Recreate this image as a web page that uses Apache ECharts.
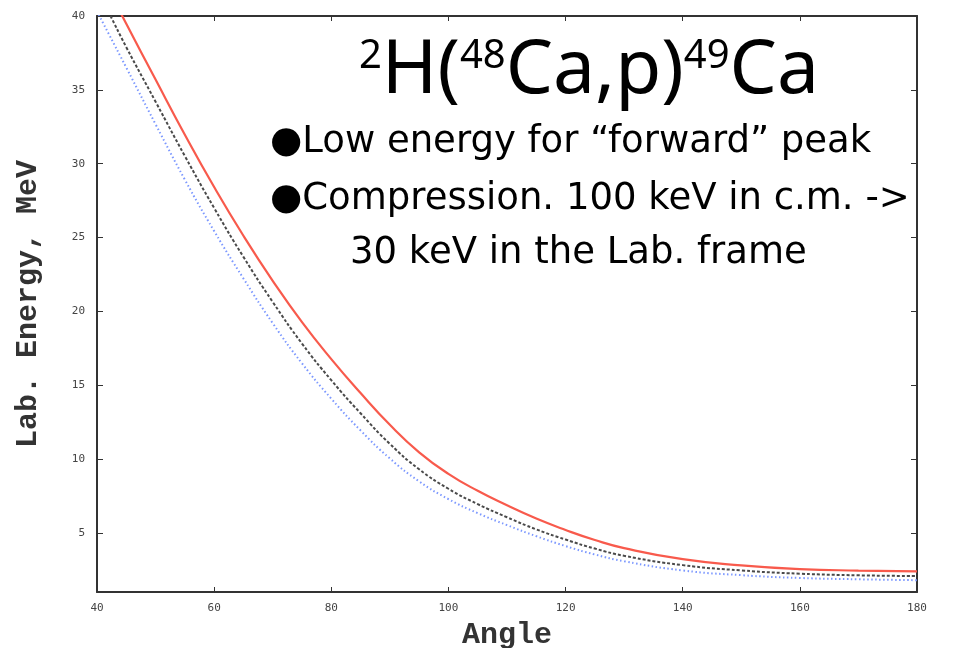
<!DOCTYPE html>
<html>
<head>
<meta charset="utf-8">
<script src="https://cdn.jsdelivr.net/npm/echarts@6/dist/echarts.min.js"></script>
<style>html,body{margin:0;padding:0;background:#fff}#c{width:953px;height:648px}</style>
</head>
<body>
<div id="c"></div>
<script>
var angles = [40,42,45,50,55,60,65,70,75,80,85,90,95,100,105,110,115,120,125,130,140,150,160,170,180];
var redE   = [43.35,41.8,39.47,35.7,31.96,28.42,25.12,22.07,19.27,16.77,14.47,12.32,10.46,9.0,7.85,6.87,5.97,5.2,4.52,3.97,3.22,2.8,2.55,2.45,2.4];
var blackE = [41.83,40.25,37.89,34.2,30.52,27.0,23.69,20.64,17.82,15.34,13.1,11.03,9.31,7.99,6.95,6.06,5.24,4.55,3.94,3.45,2.82,2.46,2.24,2.13,2.08];
var blueE  = [40.32,38.79,36.51,32.67,28.92,25.44,22.23,19.2,16.48,14.09,11.94,10.04,8.49,7.29,6.34,5.53,4.78,4.11,3.54,3.08,2.46,2.14,1.95,1.86,1.8];
var xTicks = [40,60,80,100,120,140,160,180];
var yTicks = [5,10,15,20,25,30,35,40];
var title = ['2','H(','48','Ca,p)','49','Ca'];
var bullets = ['\u25CFLow energy for \u201Cforward\u201D peak', '\u25CFCompression. 100 keV in c.m. ->', '30 keV in the Lab. frame'];

function pairs(ys){ return angles.map(function(a,i){return [a, ys[i]];}); }

var chart = echarts.init(document.getElementById('c'), null, {renderer:'canvas'});
var tickLbl = {fontFamily:'DejaVu Sans Mono', fontSize:11, color:'#444'};
var axisLine = {show:true, lineStyle:{color:'#333', width:2}};
var txtFont = '37px "DejaVu Sans"';
var option = {
  animation:false,
  backgroundColor:'#fff',
  grid:{left:97, right:36, top:16, bottom:56, show:false, outerBoundsMode:'none', containLabel:false},
  title:{
    text:'{s|'+title[0]+'}{b|'+title[1]+'}{s|'+title[2]+'}{b|'+title[3]+'}{s|'+title[4]+'}{b|'+title[5]+'}',
    left:584, top:14, textAlign:'center',
    textStyle:{fontWeight:'normal', rich:{
      b:{fontFamily:'Noto Sans', fontWeight:'normal', fontSize:75, color:'#000', verticalAlign:'bottom', lineHeight:90},
      s:{fontFamily:'Noto Sans', fontWeight:'normal', fontSize:40, color:'#000', verticalAlign:'top', lineHeight:40, padding:[18,0,0,0]}
    }}
  },
  graphic:[
    {type:'text', left:270, top:124, style:{text:bullets[0], font:txtFont, fill:'#000'}},
    {type:'text', left:270, top:181, style:{text:bullets[1], font:txtFont, fill:'#000'}},
    {type:'text', left:350, top:235, style:{text:bullets[2], font:txtFont, fill:'#000'}}
  ],
  xAxis:[
    {type:'value', min:40, max:180, interval:20, position:'bottom',
     name:'Angle', nameLocation:'middle', nameGap:28,
     nameTextStyle:{fontFamily:'Liberation Mono', fontWeight:'bold', fontSize:30, color:'#333'},
     axisLine:axisLine, axisTick:{show:true, inside:true, length:5, lineStyle:{color:'#333'}},
     axisLabel:Object.assign({margin:11, showMinLabel:true, showMaxLabel:true}, tickLbl),
     splitLine:{show:false}},
    {type:'value', min:40, max:180, interval:20, position:'top',
     axisLine:axisLine, axisTick:{show:true, inside:true, length:5, lineStyle:{color:'#333'}},
     axisLabel:{show:false}, splitLine:{show:false}}
  ],
  yAxis:[
    {type:'value', min:1, max:40, position:'left',
     name:'Lab. Energy, MeV', nameLocation:'middle', nameGap:54, nameRotate:90,
     nameTextStyle:{fontFamily:'Liberation Mono', fontWeight:'bold', fontSize:30, color:'#333'},
     axisLine:axisLine,
     axisTick:{show:true, inside:true, length:6, customValues:yTicks, lineStyle:{color:'#333'}},
     axisLabel:Object.assign({margin:12, customValues:yTicks}, tickLbl),
     splitLine:{show:false}},
    {type:'value', min:1, max:40, position:'right',
     axisLine:axisLine,
     axisTick:{show:true, inside:true, length:6, customValues:yTicks, lineStyle:{color:'#333'}},
     axisLabel:{show:false}, splitLine:{show:false}}
  ],
  series:[
    {type:'line', name:'red', data:pairs(redE), smooth:0.5, symbol:'none', clip:true,
     lineStyle:{color:'#f85a4c', width:2.2, type:'solid'}},
    {type:'line', name:'black', data:pairs(blackE), smooth:0.5, symbol:'none', clip:true,
     lineStyle:{color:'#4a4a4a', width:2, type:[3,2]}},
    {type:'line', name:'blue', data:pairs(blueE), smooth:0.5, symbol:'none', clip:true,
     lineStyle:{color:'#7c98ff', width:2, type:[1.5,2.5]}}
  ]
};
chart.setOption(option);
</script>
</body>
</html>
